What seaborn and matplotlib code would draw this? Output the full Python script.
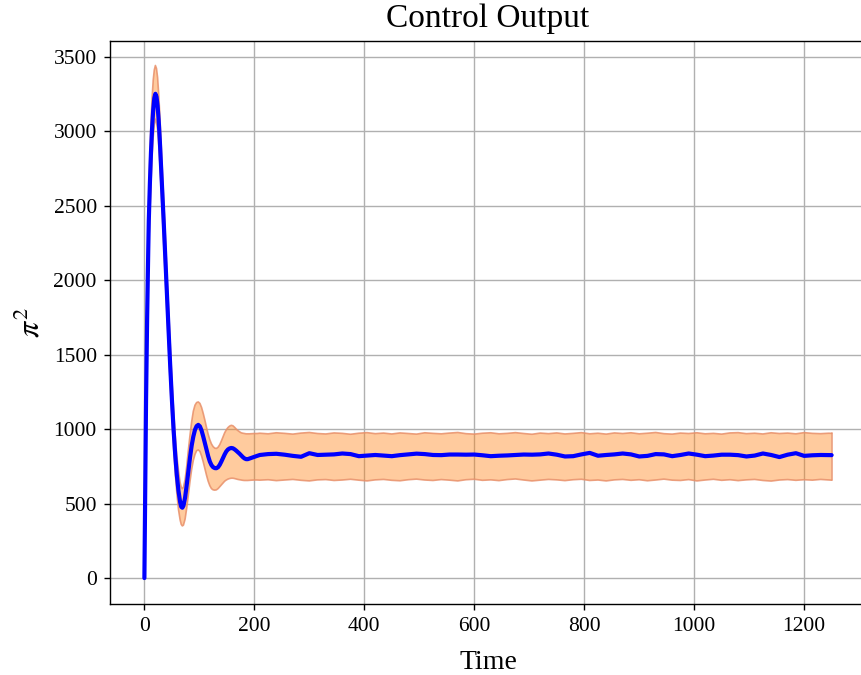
import numpy as np
import pandas as pd
import matplotlib
matplotlib.use("Agg")
import matplotlib.pyplot as plt
import seaborn as sns

# ---- data ----
time = [0, 1, 2, 3, 4, 5, 6, 7, 8, 10, 12, 14, 16, 18, 20, 22, 24, 26, 28, 30, 32, 35, 38, 41, 44,
        47, 50, 53, 56, 59, 62, 65, 67, 69, 71, 74, 77, 80, 83, 86, 89, 92, 95, 98, 101, 104, 107,
        110, 113, 116, 119, 122, 125, 128, 131, 134, 137, 140, 143, 146, 149, 152, 155, 158, 161,
        164, 167, 170, 173, 176, 179, 182, 185, 188, 191, 195, 200, 205,
        210, 225, 240, 255, 270, 285, 300, 315, 330, 345, 360, 375, 390, 405, 420, 435, 450, 465,
        480, 495, 510, 525, 540, 555, 570, 585, 600, 615, 630, 645, 660, 675, 690, 705, 720, 735,
        750, 765, 780, 795, 810, 825, 840, 855, 870, 885, 900, 915, 930, 945, 960, 975, 990, 1005,
        1020, 1035, 1050, 1065, 1080, 1095, 1110, 1125, 1140, 1155, 1170, 1185, 1200, 1215, 1230,
        1245, 1250]

output_mean = [0, 420, 820, 1190, 1480, 1750, 2000, 2200, 2400, 2650, 2860, 3020, 3140, 3220, 3250,
               3230, 3170, 3070, 2940, 2790, 2630, 2400, 2150, 1900, 1660, 1420, 1200, 1000, 830,
               690, 585, 510, 478, 472, 485, 540, 625, 720, 810, 890, 950, 995, 1020, 1028, 1018,
               990, 950, 905, 860, 818, 782, 758, 744, 738, 737, 744, 760, 782, 806, 830, 850, 863,
               870, 873, 871, 864, 855, 845, 835, 823, 812, 803, 798, 798, 802, 808, 814, 820,
               826, 832, 834, 828, 820, 814, 838, 826, 828, 830, 836, 832, 818, 822, 826, 822, 818,
               825, 830, 835, 832, 826, 825, 829, 829, 828, 829, 824, 818, 821, 823, 826, 829, 828,
               830, 836, 828, 816, 818, 830, 840, 821, 826, 830, 836, 830, 816, 820, 832, 830, 818,
               826, 836, 828, 818, 822, 828, 828, 825, 816, 822, 836, 826, 812, 828, 838, 820, 824,
               826, 825, 825]

band_low = [0, 400, 780, 1130, 1400, 1650, 1880, 2060, 2240, 2460, 2660, 2830, 2960, 3040, 3080,
            3060, 3010, 2910, 2790, 2650, 2490, 2260, 2020, 1770, 1530, 1300, 1080, 880, 710, 570,
            460, 390, 360, 350, 355, 395, 470, 560, 650, 730, 790, 830, 855, 860, 850, 820, 780,
            735, 690, 650, 620, 600, 592, 590, 592, 600, 612, 625, 638, 650, 658, 664, 668, 670,
            670, 668, 665, 662, 660, 658, 656, 655, 655, 655, 656, 657, 658, 658,
            657, 660, 654, 658, 662, 656, 652, 659, 661, 655, 658, 663, 657, 652, 659, 662, 656,
            653, 660, 664, 658, 655, 661, 657, 652, 660, 663, 656, 659, 654, 661, 665, 658, 652,
            657, 662, 659, 654, 660, 663, 655, 658, 652, 659, 662, 656, 660, 653, 658, 664, 657,
            655, 661, 652, 658, 663, 656, 660, 654, 659, 662, 655, 651, 658, 661, 656, 660, 657,
            662, 658, 657]

band_high = [0, 440, 860, 1250, 1560, 1850, 2120, 2340, 2560, 2840, 3060, 3220, 3340, 3410, 3440,
             3420, 3360, 3250, 3110, 2950, 2790, 2560, 2300, 2040, 1800, 1560, 1330, 1130, 960,
             820, 720, 640, 610, 600, 610, 660, 750, 860, 960, 1050, 1120, 1160, 1178, 1182, 1172,
             1145, 1105, 1060, 1010, 965, 928, 900, 882, 872, 870, 878, 895, 920, 948, 975, 995,
             1010, 1020, 1025, 1022, 1012, 1000, 990, 982, 975, 972, 970, 968, 968, 968, 969, 970,
             970,
             972, 968, 975, 971, 966, 973, 977, 970, 967, 974, 971, 965, 972, 976, 969, 973, 967,
             974, 970, 966, 975, 971, 968, 973, 977, 969, 966, 972, 975, 968, 971, 976, 970, 965,
             973, 969, 974, 967, 971, 976, 968, 972, 966, 974, 970, 975, 968, 972, 977, 969, 966,
             973, 970, 975, 968, 971, 966, 974, 976, 969, 972, 967, 975, 970, 973, 968, 976, 971,
             969, 972, 971]

x_ticks = [0, 200, 400, 600, 800, 1000, 1200]
y_ticks = [0, 500, 1000, 1500, 2000, 2500, 3000, 3500]

df = pd.DataFrame({"Time": time, "output": output_mean, "low": band_low, "high": band_high})

sns.set_style("ticks")
plt.rcParams["font.family"] = ["Liberation Serif", "DejaVu Serif"]
plt.rcParams["mathtext.fontset"] = "stix"
plt.rcParams["text.color"] = "black"
plt.rcParams["axes.labelcolor"] = "black"
plt.rcParams["xtick.color"] = "black"
plt.rcParams["ytick.color"] = "black"

fig = plt.figure(figsize=(8.61, 6.75), dpi=100)
ax = fig.add_axes([0.1278, 0.1052, 0.878, 0.834])

ax.fill_between(df["Time"], df["low"], df["high"], facecolor="#ff7f0e", alpha=0.4,
                edgecolor="none", zorder=2)
ax.plot(df["Time"], df["low"], color="#e8906a", lw=1.2, alpha=0.85, zorder=2)
ax.plot(df["Time"], df["high"], color="#e8906a", lw=1.2, alpha=0.85, zorder=2)
ax.plot([time[-1], time[-1]], [band_low[-1], band_high[-1]], color="#e8906a", lw=1.2,
        alpha=0.85, zorder=2)
sns.lineplot(data=df, x="Time", y="output", color="blue", lw=3, ax=ax, zorder=3)

ax.set_xticks(x_ticks)
ax.set_yticks(y_ticks)
ax.set_xlim(-62.5, 1312.5)
ax.set_ylim(-174, 3604)
ax.grid(True, color="#b0b0b0", lw=1.0)
ax.set_axisbelow(True)
for s in ax.spines.values():
    s.set_color("black")
    s.set_linewidth(1.0)
ax.tick_params(axis="both", labelsize=15.5, length=4.5, width=1.0, pad=5,
               colors="black", labelcolor="black")

ax.set_title("Control Output", fontsize=24, pad=10, color="black")
ax.set_xlabel("Time", fontsize=20, labelpad=10, color="black")
ax.set_ylabel(r"$\pi^2$", fontsize=23, labelpad=5, color="black")

fig.savefig("out.png", dpi=100)
